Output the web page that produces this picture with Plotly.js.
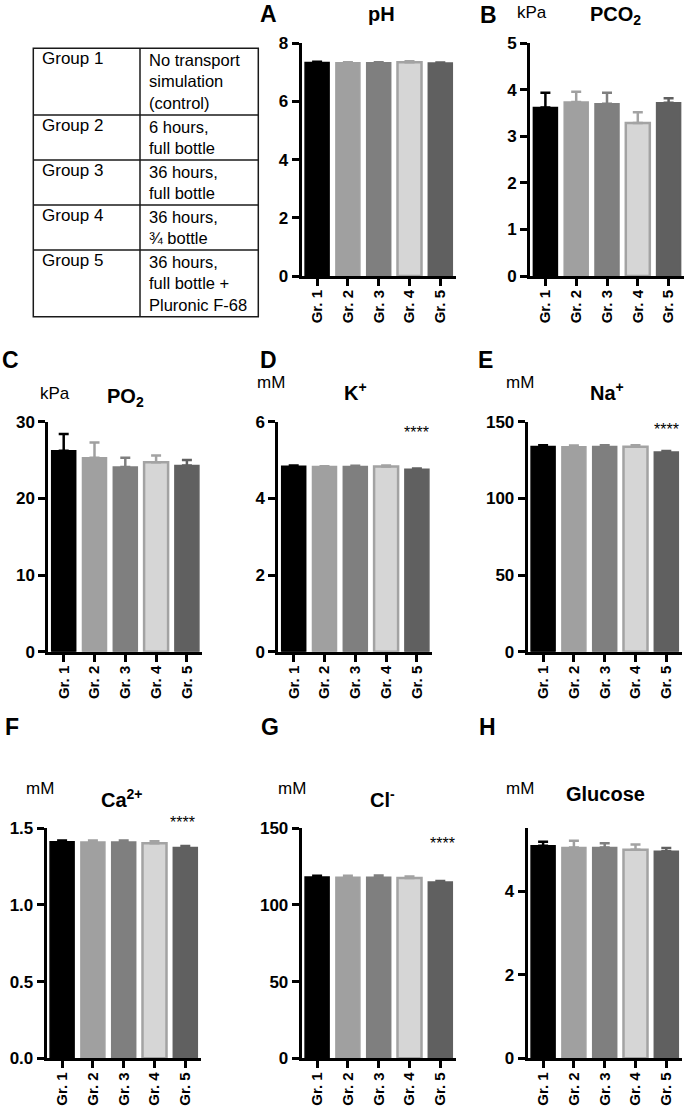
<!DOCTYPE html>
<html>
<head>
<meta charset="utf-8">
<script src="https://cdn.plot.ly/plotly-3.0.1.min.js"></script>
<style>
html,body{margin:0;padding:0;background:#fff;}
#chart{width:685px;height:1108px;}
</style>
</head>
<body>
<div id="chart"></div>
<script>
// ---- data ----
const groups = ['Gr. 1', 'Gr. 2', 'Gr. 3', 'Gr. 4', 'Gr. 5'];
const pH = [7.34, 7.33, 7.33, 7.35, 7.32];
const pH_err = [0.03, 0.02, 0.02, 0.03, 0.02];
const pCO2 = [3.62, 3.74, 3.70, 3.29, 3.72];
const pCO2_err = [0.32, 0.22, 0.24, 0.23, 0.10];
const pO2 = [26.2, 25.3, 24.1, 24.7, 24.3];
const pO2_err = [2.2, 2.0, 1.2, 0.9, 0.7];
const K = [4.84, 4.83, 4.83, 4.83, 4.76];
const K_err = [0.02, 0.01, 0.02, 0.03, 0.02];
const Na = [133.8, 133.6, 133.8, 133.6, 130.2];
const Na_err = [0.8, 0.8, 0.8, 1.0, 0.7];
const Ca = [1.413, 1.410, 1.410, 1.403, 1.375];
const Ca_err = [0.008, 0.010, 0.010, 0.012, 0.010];
const Cl = [118.2, 118.0, 118.0, 117.6, 115.0];
const Cl_err = [0.8, 1.0, 1.2, 1.0, 0.7];
const Glucose = [5.08, 5.04, 5.04, 4.99, 4.95];
const Glucose_err = [0.10, 0.16, 0.10, 0.12, 0.08];

const tableGroups = ['Group 1', 'Group 2', 'Group 3', 'Group 4', 'Group 5'];
const tableDescriptions = [
  'No transport<br>simulation<br>(control)',
  '6 hours,<br>full bottle',
  '36 hours,<br>full bottle',
  '36 hours,<br>¾ bottle',
  '36 hours,<br>full bottle +<br>Pluronic F-68'
];

// ---- styling ----
const fillColors = ['#000000', '#a0a0a0', '#7f7f7f', '#d6d6d6', '#606060'];
const lineColors = ['#000000', '#a0a0a0', '#7f7f7f', '#a3a3a3', '#606060'];
const W = 685, H = 1108;
const px = x => x / W;
const py = y => 1 - y / H;
const FONT = 'Arial, "Liberation Sans", Helvetica, sans-serif';

const panels = [
  {letter:'A', title:'pH', unit:'', vals:pH, errs:pH_err, range:[0,8], dtick:2, fmt:'d',
   x0:301.7, yt:43.3, yb:276, L:[268,14], T:[381,14], U:null, S:null},
  {letter:'B', title:'PCO<sub>2</sub>', unit:'kPa', vals:pCO2, errs:pCO2_err, range:[0,5], dtick:1, fmt:'d',
   x0:530, yt:43.3, yb:276, L:[488,15], T:[615,16], U:[532,13], S:null},
  {letter:'C', title:'PO<sub>2</sub>', unit:'kPa', vals:pO2, errs:pO2_err, range:[0,30], dtick:10, fmt:'d',
   x0:48.3, yt:421.7, yb:651.7, L:[10,360], T:[125,397], U:[55,394], S:null},
  {letter:'D', title:'K<sup>+</sup>', unit:'mM', vals:K, errs:K_err, range:[0,6], dtick:2, fmt:'d',
   x0:278.3, yt:421.7, yb:651.7, L:[268,360], T:[355,392], U:[271,382], S:[416,432]},
  {letter:'E', title:'Na<sup>+</sup>', unit:'mM', vals:Na, errs:Na_err, range:[0,150], dtick:50, fmt:'d',
   x0:527.7, yt:421.7, yb:651.7, L:[486,360], T:[607,392], U:[520,382], S:[666,430]},
  {letter:'F', title:'Ca<sup>2+</sup>', unit:'mM', vals:Ca, errs:Ca_err, range:[0,1.5], dtick:0.5, fmt:'.1f',
   x0:46.7, yt:828.3, yb:1058.3, L:[12,727], T:[122,798], U:[40,788], S:[183,822]},
  {letter:'G', title:'Cl<sup>-</sup>', unit:'mM', vals:Cl, errs:Cl_err, range:[0,150], dtick:50, fmt:'d',
   x0:301.7, yt:828.3, yb:1058.3, L:[270,727], T:[382,798], U:[292,788], S:[442,843]},
  {letter:'H', title:'Glucose', unit:'mM', vals:Glucose, errs:Glucose_err, range:[0,5.5], dtick:2, fmt:'d',
   x0:527.7, yt:828.3, yb:1058.3, L:[487,727], T:[605,794], U:[520,788], S:null}
];
const PW = 154; // panel width px

const traces = [];
const layout = {
  width: W, height: H,
  margin: {l:0, r:0, t:0, b:0},
  paper_bgcolor: '#fff', plot_bgcolor: '#fff',
  showlegend: false,
  barmode: 'overlay',
  font: {family: FONT, color: '#000'},
  annotations: [],
  shapes: []
};

panels.forEach((p, k) => {
  const n = k + 1;
  const xa = n === 1 ? 'x' : 'x' + n;
  const ya = n === 1 ? 'y' : 'y' + n;
  groups.forEach((g, i) => {
    traces.push({
      type: 'bar', x: [g], y: [p.vals[i]], xaxis: xa, yaxis: ya, width: 0.78,
      marker: {color: fillColors[i], line: {color: lineColors[i], width: i === 3 ? 2.5 : 1.5}},
      error_y: {type: 'data', symmetric: false, array: [p.errs[i]], arrayminus: [0],
                color: lineColors[i], thickness: 2.5, width: 5},
      hoverinfo: 'skip'
    });
  });
  layout['xaxis' + (n === 1 ? '' : n)] = {
    domain: [px(p.x0), px(p.x0 + PW)], anchor: ya,
    type: 'category', categoryorder: 'array', categoryarray: groups,
    range: [-0.5, 4.5], showline: true, linewidth: 3, linecolor: '#000',
    ticks: 'outside', ticklen: 7, tickwidth: 3, tickcolor: '#000',
    ticklabelstandoff: -2,
    tickangle: -90, tickfont: {family: FONT, size: 15, weight: 'bold', color: '#000'},
    showgrid: false, zeroline: false, fixedrange: true
  };
  layout['yaxis' + (n === 1 ? '' : n)] = {
    domain: [py(p.yb), py(p.yt)], anchor: xa,
    range: p.range, tick0: 0, dtick: p.dtick, tickformat: p.fmt,
    showline: true, linewidth: 3, linecolor: '#000',
    ticks: 'outside', ticklen: 7, tickwidth: 3, tickcolor: '#000',
    tickfont: {family: FONT, size: 17, weight: 'bold', color: '#000'},
    showgrid: false, zeroline: false, fixedrange: true
  };
  layout.annotations.push({text: p.letter, xref:'paper', yref:'paper', x: px(p.L[0]), y: py(p.L[1]),
    xanchor:'center', yanchor:'middle', showarrow:false,
    font:{family: FONT, size: 23, weight:'bold', color:'#000'}});
  layout.annotations.push({text: p.title, xref:'paper', yref:'paper', x: px(p.T[0]), y: py(p.T[1]),
    xanchor:'center', yanchor:'middle', showarrow:false,
    font:{family: FONT, size: 20, weight:'bold', color:'#000'}});
  if (p.U) layout.annotations.push({text: p.unit, xref:'paper', yref:'paper', x: px(p.U[0]), y: py(p.U[1]),
    xanchor:'center', yanchor:'middle', showarrow:false,
    font:{family: FONT, size: 17, color:'#000'}});
  if (p.S) layout.annotations.push({text: '****', xref:'paper', yref:'paper', x: px(p.S[0]), y: py(p.S[1]),
    xanchor:'center', yanchor:'middle', showarrow:false,
    font:{family: FONT, size: 16, color:'#000'}});
});

// ---- table ----
const tL = 33.3, tR = 258.3, tMid = 140, rowTops = [48.3, 115, 160, 205, 250], tB = 316.7;
const lineStyle = {color: '#1a1a1a', width: 1.5};
layout.shapes.push({type:'rect', xref:'paper', yref:'paper', x0:px(tL), x1:px(tR), y0:py(tB), y1:py(rowTops[0]), line: lineStyle});
layout.shapes.push({type:'line', xref:'paper', yref:'paper', x0:px(tMid), x1:px(tMid), y0:py(tB), y1:py(rowTops[0]), line: lineStyle});
rowTops.slice(1).forEach(y => layout.shapes.push({type:'line', xref:'paper', yref:'paper',
  x0:px(tL), x1:px(tR), y0:py(y), y1:py(y), line: lineStyle}));
tableGroups.forEach((g, i) => {
  layout.annotations.push({text: g, xref:'paper', yref:'paper', x: px(40), y: py(rowTops[i] - 1),
    xanchor:'left', yanchor:'top', align:'left', showarrow:false,
    font:{family: FONT, size: 17, color:'#000'}});
  layout.annotations.push({text: tableDescriptions[i], xref:'paper', yref:'paper', x: px(147), y: py(rowTops[i] + 1),
    xanchor:'left', yanchor:'top', align:'left', showarrow:false,
    font:{family: FONT, size: 16.5, color:'#000'}});
});

Plotly.newPlot('chart', traces, layout, {staticPlot: true, displayModeBar: false});
</script>
</body>
</html>
